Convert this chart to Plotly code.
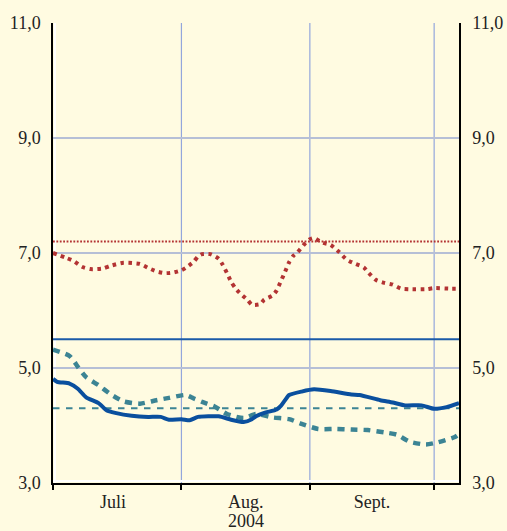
import plotly.graph_objects as go

# ---- data ----
red_dates = ["2004-07-01", "2004-07-04", "2004-07-06", "2004-07-08", "2004-07-10", "2004-07-13",
             "2004-07-15", "2004-07-18", "2004-07-22", "2004-07-24", "2004-07-26", "2004-07-28",
             "2004-07-30", "2004-08-01", "2004-08-02", "2004-08-04", "2004-08-05", "2004-08-06",
             "2004-08-08", "2004-08-10", "2004-08-11", "2004-08-12", "2004-08-13", "2004-08-14",
             "2004-08-15", "2004-08-17", "2004-08-18", "2004-08-20", "2004-08-21", "2004-08-23",
             "2004-08-24", "2004-08-25", "2004-08-26", "2004-08-27", "2004-08-28", "2004-08-29",
             "2004-08-31", "2004-09-01", "2004-09-02", "2004-09-04", "2004-09-06", "2004-09-08",
             "2004-09-10", "2004-09-12", "2004-09-14", "2004-09-15", "2004-09-17", "2004-09-19",
             "2004-09-21", "2004-09-23", "2004-09-25", "2004-09-29", "2004-10-01", "2004-10-05",
             "2004-10-07"]
red_values = [7.00, 6.92, 6.86, 6.76, 6.72, 6.73,
              6.78, 6.83, 6.81, 6.74, 6.68, 6.65,
              6.66, 6.70, 6.74, 6.85, 6.94, 6.98,
              6.98, 6.90, 6.79, 6.65, 6.50, 6.39,
              6.31, 6.18, 6.10, 6.11, 6.19, 6.26,
              6.35, 6.51, 6.67, 6.84, 6.95, 7.01,
              7.18, 7.24, 7.26, 7.18, 7.14, 7.02,
              6.88, 6.81, 6.75, 6.67, 6.53, 6.48,
              6.45, 6.38, 6.37, 6.37, 6.39, 6.38,
              6.38]

blue_dates = ["2004-07-01", "2004-07-02", "2004-07-05", "2004-07-07", "2004-07-09", "2004-07-12",
              "2004-07-14", "2004-07-16", "2004-07-20", "2004-07-24", "2004-07-27", "2004-07-29",
              "2004-08-01", "2004-08-03", "2004-08-05", "2004-08-10", "2004-08-13", "2004-08-16",
              "2004-08-18", "2004-08-19", "2004-08-21", "2004-08-24", "2004-08-25", "2004-08-26",
              "2004-08-27", "2004-08-30", "2004-09-02", "2004-09-06", "2004-09-11", "2004-09-13",
              "2004-09-18", "2004-09-21", "2004-09-24", "2004-09-28", "2004-10-01", "2004-10-04",
              "2004-10-07"]
blue_values = [4.81, 4.76, 4.73, 4.64, 4.49, 4.39,
               4.26, 4.22, 4.17, 4.15, 4.15, 4.10,
               4.11, 4.09, 4.15, 4.16, 4.10, 4.06,
               4.11, 4.16, 4.22, 4.28, 4.34, 4.44,
               4.53, 4.59, 4.63, 4.60, 4.54, 4.53,
               4.44, 4.40, 4.35, 4.35, 4.29, 4.32,
               4.39]

teal_dates = ["2004-07-01", "2004-07-05", "2004-07-07", "2004-07-09", "2004-07-12", "2004-07-15",
              "2004-07-18", "2004-07-22", "2004-07-26", "2004-07-29", "2004-08-02", "2004-08-04",
              "2004-08-06", "2004-08-09", "2004-08-12", "2004-08-16", "2004-08-19", "2004-08-23",
              "2004-08-27", "2004-08-30", "2004-09-03", "2004-09-07", "2004-09-11", "2004-09-15",
              "2004-09-19", "2004-09-22", "2004-09-25", "2004-09-29", "2004-10-02", "2004-10-06",
              "2004-10-07"]
teal_values = [5.32, 5.21, 5.02, 4.84, 4.70, 4.54,
               4.42, 4.38, 4.44, 4.48, 4.53, 4.47,
               4.41, 4.33, 4.20, 4.13, 4.20, 4.14,
               4.11, 4.03, 3.94, 3.94, 3.93, 3.92,
               3.88, 3.84, 3.72, 3.67, 3.71, 3.80,
               3.85]

ref_dates = ["2004-07-01", "2004-10-07"]
red_ref = [7.2, 7.2]
blue_ref = [5.5, 5.5]
teal_ref = [4.3, 4.3]

month_starts = ["2004-07-01", "2004-08-01", "2004-09-01", "2004-10-01"]
month_label_pos = ["2004-07-15 12:00", "2004-08-16 12:00", "2004-09-16"]
month_labels = ["Juli", "Aug.", "Sept."]
year_label = "2004"
year_label_pos = "2004-08-16 12:00"

y_ticks = [3, 5, 7, 9, 11]
y_labels = ["3,0", "5,0", "7,0", "9,0", "11,0"]

# ---- styles ----
RED = "#b33333"
BLUE = "#0a4f9e"
TEAL = "#3c8494"
BG = "#fffbe1"
HGRID = "#b6bfd6"
VGRID = "#93a6dc"
FONT = "Liberation Serif"
TXT = "#222222"

fig = go.Figure()
fig.add_trace(go.Scatter(x=ref_dates, y=blue_ref, mode="lines",
                         line=dict(color="#1a5aa8", width=2), hoverinfo="skip"))
fig.add_trace(go.Scatter(x=ref_dates, y=teal_ref, mode="lines",
                         line=dict(color=TEAL, width=2, dash="6.5px,6.5px"), hoverinfo="skip"))
fig.add_trace(go.Scatter(x=ref_dates, y=red_ref, mode="lines", yaxis="y2",
                         line=dict(color=RED, width=2, dash="1.8px,1.6px"), hoverinfo="skip"))
fig.add_trace(go.Scatter(x=teal_dates, y=teal_values, mode="lines",
                         line=dict(color=TEAL, width=4.5, dash="7px,6px", shape="spline", smoothing=0.6)))
fig.add_trace(go.Scatter(x=blue_dates, y=blue_values, mode="lines",
                         line=dict(color=BLUE, width=4, shape="spline", smoothing=0.5)))
fig.add_trace(go.Scatter(x=red_dates, y=red_values, mode="lines",
                         line=dict(color=RED, width=4, dash="3.5px,4.5px", shape="spline", smoothing=0.6)))

vgrid_shapes = [
    dict(type="line", xref="x", yref="paper", x0=d, x1=d, y0=0, y1=1,
         line=dict(color=VGRID, width=1.2), layer="below")
    for d in month_starts[1:]
]

fig.update_layout(
    width=507, height=531,
    margin=dict(l=53, r=48, t=23, b=48, autoexpand=False),
    paper_bgcolor=BG, plot_bgcolor=BG,
    showlegend=False,
    font=dict(family=FONT, size=18, color=TXT),
    xaxis=dict(
        type="date", range=["2004-07-01", "2004-10-07"], automargin=False,
        tickmode="array", tickvals=month_label_pos, ticktext=month_labels,
        ticks="", showgrid=False, zeroline=False,
        showline=True, linecolor="black", linewidth=1.5,
        ticklabelstandoff=2,
        tickfont=dict(family=FONT, size=18, color=TXT),
        minor=dict(tickmode="array", tickvals=month_starts, ticks="outside", ticklen=5,
                   tickcolor="black", tickwidth=1.5, showgrid=False),
    ),
    yaxis=dict(
        range=[3, 11], automargin=False, tickmode="array", tickvals=y_ticks, ticktext=y_labels,
        ticks="", showgrid=True, gridcolor=HGRID, gridwidth=1.5, zeroline=False,
        showline=True, linecolor="black", linewidth=1.5,
        ticklabelstandoff=7,
        tickfont=dict(family=FONT, size=18, color=TXT),
    ),
    yaxis2=dict(
        range=[3, 11], automargin=False, overlaying="y", side="right", tickmode="array",
        tickvals=y_ticks, ticktext=y_labels, ticks="", showgrid=False, zeroline=False,
        showline=True, linecolor="black", linewidth=1.5,
        ticklabelstandoff=8,
        tickfont=dict(family=FONT, size=18, color=TXT),
    ),
    annotations=[
        dict(text=year_label, x=year_label_pos, xref="x", y=0, yref="paper",
             yanchor="middle", xanchor="center", yshift=-38, showarrow=False,
             font=dict(family=FONT, size=18, color=TXT)),
    ],
    shapes=vgrid_shapes + [
        dict(type="line", xref="paper", yref="paper", xsizemode="pixel", xanchor=0,
             x0=2, x1=2, y0=0, y1=1, line=dict(color="white", width=2), layer="below"),
        dict(type="line", xref="paper", yref="paper", ysizemode="pixel", yanchor=0,
             y0=2, y1=2, x0=0, x1=1, line=dict(color="white", width=2), layer="below"),
    ],
)

fig.write_html("out.html", config={"displayModeBar": False},
               post_script="document.body.style.margin='0';document.body.style.overflow='hidden';")
